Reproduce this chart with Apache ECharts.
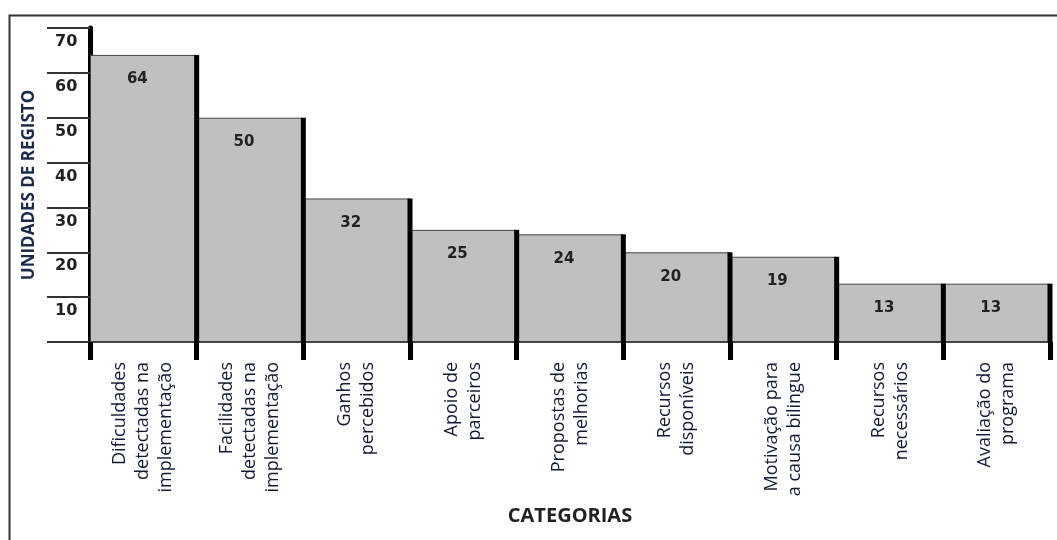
<!DOCTYPE html>
<html>
<head>
<meta charset="utf-8">
<script src="https://cdn.jsdelivr.net/npm/echarts@6/dist/echarts.min.js"></script>
<style>
    html, body {margin: 0; padding: 0; background: #fff;}
    #chart {width: 1057px; height: 540px;}
</style>
</head>
<body>
<div id="chart"></div>
<script>
var categories = [
    'Dificuldades\ndetectadas na\nimplementação',
    'Facilidades\ndetectadas na\nimplementação',
    'Ganhos\npercebidos',
    'Apoio de\nparceiros',
    'Propostas de\nmelhorias',
    'Recursos\ndisponíveis',
    'Motivação para\na causa bilingue',
    'Recursos\nnecessários',
    'Avaliação do\nprograma'
];
var registos = [64, 50, 32, 25, 24, 20, 19, 13, 13];
var yTicks = [10, 20, 30, 40, 50, 60, 70];

var chart = echarts.init(document.getElementById('chart'));
var option = {
    backgroundColor: '#fff',
    animation: false,
    grid: {
        left: 90,
        right: 7,
        top: 28,
        bottom: 198
    },
    graphic: [{
        type: 'rect',
        left: 7,
        top: 13,
        shape: {width: 1100, height: 600},
        style: {fill: 'none', stroke: '#333', lineWidth: 2}
    }],
    xAxis: {
        type: 'category',
        data: categories,
        name: 'CATEGORIAS',
        nameLocation: 'middle',
        nameGap: 164,
        nameTextStyle: {
            fontFamily: 'Open Sans',
            fontWeight: 'bold',
            fontSize: 20,
            color: '#222'
        },
        axisLine: {
            show: true,
            lineStyle: {color: '#444', width: 2}
        },
        axisTick: {
            show: true,
            interval: 0,
            length: 18,
            lineStyle: {color: '#000', width: 5}
        },
        axisLabel: {
            interval: 0,
            rotate: 90,
            margin: 20,
            fontFamily: 'Open Sans',
            fontSize: 18,
            lineHeight: 23,
            color: '#111a33'
        }
    },
    yAxis: {
        type: 'value',
        min: 0,
        max: 70,
        interval: 10,
        name: 'UNIDADES DE REGISTO',
        nameLocation: 'middle',
        nameGap: 52,
        nameTextStyle: {
            fontFamily: 'Open Sans',
            fontWeight: 'bold',
            fontSize: 17,
            color: '#1c2a4a'
        },
        axisLine: {
            show: true,
            lineStyle: {color: '#000', width: 5}
        },
        axisTick: {
            show: true,
            length: 43,
            lineStyle: {color: '#333', width: 2}
        },
        splitLine: {show: false},
        axisLabel: {
            margin: 35,
            align: 'left',
            verticalAlign: 'top',
            padding: [6, 0, 0, 0],
            fontFamily: 'DejaVu Sans',
            fontWeight: 'bold',
            fontSize: 16,
            color: '#222',
            formatter: function (value) {
                return yTicks.indexOf(value) >= 0 ? String(value) : '';
            }
        }
    },
    series: [{
        type: 'bar',
        data: registos,
        barCategoryGap: 0,
        itemStyle: {
            color: '#c0c0c0',
            borderColor: '#444',
            borderWidth: 1
        },
        label: {
            show: true,
            position: 'insideTop',
            distance: 17,
            offset: [-6, 0],
            fontFamily: 'DejaVu Sans',
            fontWeight: 'bold',
            fontSize: 15,
            color: '#222'
        },
        z: 2
    }, {
        // thick right edge of each bar
        type: 'custom',
        data: registos.map(function (v, i) { return [i, v]; }),
        renderItem: function (params, api) {
            var top = api.coord([api.value(0), api.value(1)]);
            var base = api.coord([api.value(0), 0]);
            var w = api.size([1, 0])[0];
            var x = top[0] + w / 2;
            return {
                type: 'line',
                shape: {x1: x, y1: top[1], x2: x, y2: base[1]},
                style: {stroke: '#000', lineWidth: 5}
            };
        },
        z: 3
    }]
};
chart.setOption(option);
</script>
</body>
</html>
